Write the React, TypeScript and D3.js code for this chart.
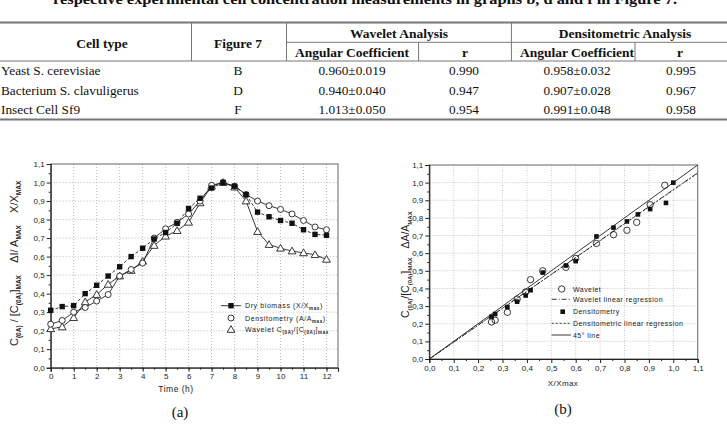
import React, { useEffect, useRef } from 'react';
import * as d3 from 'd3';

// ---- table ----
const tableTitle = 'respective experimental cell concentration measurements in graphs b, d and f in Figure 7.';
const cellTypes = ['Yeast S. cerevisiae', 'Bacterium S. clavuligerus', 'Insect Cell Sf9'];
const figureRefs = ['B', 'D', 'F'];
const waveletCoef = ['0.960\u00b10.019', '0.940\u00b10.040', '1.013\u00b10.050'];
const waveletR = ['0.990', '0.947', '0.954'];
const densCoef = ['0.958\u00b10.032', '0.907\u00b10.028', '0.991\u00b10.048'];
const densR = ['0.995', '0.967', '0.958'];

// ---- chart (a) ----
const hours = [0, 0.5, 1, 1.5, 2, 2.5, 3, 3.5, 4, 4.5, 5, 5.5, 6, 6.5, 7, 7.5, 8, 8.5, 9, 9.5, 10, 10.5, 11, 11.5, 12];
const dryBiomass = [0.31, 0.33, 0.335, 0.40, 0.445, 0.495, 0.545, 0.60, 0.645, 0.695, 0.73, 0.78, 0.86, 0.915, 0.97, 1.0, 0.98, 0.935, 0.84, 0.815, 0.795, 0.78, 0.745, 0.72, 0.715];
const densitometryA = [0.235, 0.255, 0.30, 0.325, 0.36, 0.395, 0.495, 0.53, 0.565, 0.70, 0.75, 0.785, 0.83, 0.90, 0.985, 1.0, 0.98, 0.935, 0.90, 0.875, 0.855, 0.83, 0.795, 0.76, 0.745];
const waveletA = [0.21, 0.22, 0.27, 0.355, 0.395, 0.45, 0.495, 0.525, 0.575, 0.66, 0.71, 0.74, 0.785, 0.89, 0.98, 1.0, 0.975, 0.90, 0.735, 0.665, 0.645, 0.63, 0.62, 0.61, 0.585];
const hourTicks = [0, 1, 2, 3, 4, 5, 6, 7, 8, 9, 10, 11, 12];

// ---- chart (b) ----
const waveletX = [0.255, 0.27, 0.32, 0.36, 0.395, 0.415, 0.465, 0.56, 0.60, 0.685, 0.755, 0.81, 0.85, 0.905, 0.965];
const waveletY = [0.21, 0.22, 0.265, 0.34, 0.38, 0.45, 0.50, 0.52, 0.57, 0.655, 0.705, 0.73, 0.775, 0.875, 0.985];
const densX = [0.255, 0.27, 0.32, 0.36, 0.395, 0.415, 0.465, 0.56, 0.60, 0.685, 0.755, 0.81, 0.855, 0.905, 0.97, 1.0];
const densY = [0.24, 0.255, 0.295, 0.325, 0.36, 0.39, 0.49, 0.53, 0.555, 0.695, 0.745, 0.78, 0.82, 0.85, 0.885, 1.0];
const waveletSlope = 0.960;
const densSlope = 0.958;

const fracTicks = [0, 0.1, 0.2, 0.3, 0.4, 0.5, 0.6, 0.7, 0.8, 0.9, 1.0, 1.1];
const gridFrac = [0.1, 0.2, 0.3, 0.4, 0.5, 0.6, 0.7, 0.8, 0.9, 1.0];

const SANS = '"Liberation Sans", Arial, sans-serif';
const SERIF = '"Liberation Serif", "Times New Roman", serif';
const comma = (d: number) => d.toFixed(1).replace('.', ',');

type Part = [string, boolean];

// text with subscripts
function rich(sel: any, parts: Part[], size: number, subSize: number, shift: number) {
    let down = false;
    sel.style('white-space', 'pre');
    parts.forEach(([t, sub]) => {
        const ts = sel.append('tspan').text(t);
        if (sub) {
            ts.attr('font-size', subSize).attr('font-weight', 'bold');
            if (!down) ts.attr('dy', shift);
            down = true;
        } else {
            ts.attr('font-size', size);
            if (down) ts.attr('dy', -shift);
            down = false;
        }
    });
}

function marker(g: any, kind: string, x: number, y: number) {
    if (kind === 'square') {
        g.append('rect').attr('x', x - 2.7).attr('y', y - 2.7).attr('width', 5.4).attr('height', 5.4).attr('fill', '#111');
    } else if (kind === 'circle') {
        g.append('circle').attr('cx', x).attr('cy', y).attr('r', 3).attr('fill', '#fff').attr('stroke', '#222').attr('stroke-width', 0.9);
    } else {
        g.append('path').attr('d', d3.symbol(d3.symbolTriangle, 26)()).attr('transform', `translate(${x},${y + 0.6})`)
            .attr('fill', '#fff').attr('stroke', '#222').attr('stroke-width', 0.9);
    }
}

function drawTable(svg: any) {
    const g = svg.append('g').attr('font-family', SERIF).attr('fill', '#111');

    g.append('text').attr('x', 365).attr('y', 3.5).attr('text-anchor', 'middle')
        .attr('font-size', 14).attr('font-weight', 'bold')
        .attr('textLength', 624).attr('lengthAdjust', 'spacingAndGlyphs').text(tableTitle);

    const rule = (x1: number, x2: number, y1: number, y2: number, w: number) =>
        g.append('line').attr('x1', x1).attr('x2', x2).attr('y1', y1).attr('y2', y2)
            .attr('stroke', '#777').attr('stroke-width', w);

    rule(0, 727, 22.5, 22.5, 2);
    rule(286.5, 727, 42.3, 42.3, 1);
    rule(0, 727, 61, 61, 1);
    rule(0, 727, 119.5, 119.5, 2);
    [191.5, 286.5, 511.4].forEach(x => rule(x, x, 23, 61, 1));
    [418.6, 635].forEach(x => rule(x, x, 42.3, 61, 1));

    const head = (x: number, y: number, t: string) =>
        g.append('text').attr('x', x).attr('y', y).attr('text-anchor', 'middle')
            .attr('font-size', 13.5).attr('font-weight', 'bold').text(t);
    head(102, 47.5, 'Cell type');
    head(238, 47.5, 'Figure 7');
    head(399, 37.5, 'Wavelet Analysis');
    head(625, 37.5, 'Densitometric Analysis');
    head(352, 56.5, 'Angular Coefficient');
    head(465, 56.5, 'r');
    head(577, 56.5, 'Angular Coefficient');
    head(680, 56.5, 'r');

    const rowY = [75, 94.5, 113.5];
    const cell = (x: number, y: number, t: string, anchor = 'middle') =>
        g.append('text').attr('x', x).attr('y', y).attr('text-anchor', anchor).attr('font-size', 13.3).text(t);
    cellTypes.forEach((c, i) => {
        cell(1, rowY[i], c, 'start');
        cell(238, rowY[i], figureRefs[i]);
        cell(352, rowY[i], waveletCoef[i]);
        cell(464, rowY[i], waveletR[i]);
        cell(577, rowY[i], densCoef[i]);
        cell(681, rowY[i], densR[i]);
    });
}

function styleAxis(ax: any) {
    ax.select('.domain').attr('stroke', '#222').attr('stroke-width', 1.1);
    ax.selectAll('.tick line').attr('stroke', '#222');
    ax.selectAll('text').attr('font-family', SANS).attr('font-size', 8).attr('fill', '#222');
}

function drawChartA(svg: any) {
    const x = d3.scaleLinear().domain([0, 12.5]).range([50.7, 338]);
    const y = d3.scaleLinear().domain([0, 1.1]).range([367.7, 164]);
    const g = svg.append('g');

    // grid
    hourTicks.slice(1).forEach(h => g.append('line').attr('x1', x(h)).attr('x2', x(h)).attr('y1', y(1.1)).attr('y2', y(0))
        .attr('stroke', '#aaa').attr('stroke-width', 0.8).attr('stroke-dasharray', '1,2'));
    gridFrac.forEach(v => g.append('line').attr('x1', x(0)).attr('x2', x(12.5)).attr('y1', y(v)).attr('y2', y(v))
        .attr('stroke', '#aaa').attr('stroke-width', 0.8).attr('stroke-dasharray', '1,2'));

    g.append('rect').attr('x', x(0)).attr('y', y(1.1)).attr('width', x(12.5) - x(0)).attr('height', y(0) - y(1.1))
        .attr('fill', 'none').attr('stroke', '#666').attr('stroke-width', 1);

    const xa = g.append('g').attr('transform', `translate(0,${y(0)})`)
        .call(d3.axisBottom(x).tickValues(hourTicks).tickSize(4).tickPadding(2).tickFormat(d3.format('d')));
    styleAxis(xa);
    g.append('g').attr('transform', `translate(0,${y(0)})`)
        .call(d3.axisBottom(x).tickValues(hours).tickSize(2).tickFormat(() => ''))
        .call((s: any) => { s.select('.domain').remove(); s.selectAll('line').attr('stroke', '#222'); });

    const ya = g.append('g').attr('transform', `translate(${x(0)},0)`)
        .call(d3.axisLeft(y).tickValues(fracTicks).tickSize(4).tickPadding(2).tickFormat((d: any) => comma(d)));
    styleAxis(ya);
    g.append('g').attr('transform', `translate(${x(0)},0)`)
        .call(d3.axisLeft(y).tickValues(fracTicks.slice(0, -1).map(v => v + 0.05)).tickSize(2).tickFormat(() => ''))
        .call((s: any) => { s.select('.domain').remove(); s.selectAll('line').attr('stroke', '#222'); });

    const line = d3.line<number>().x((_, i) => x(hours[i])).y(d => y(d));
    g.append('path').attr('d', line(dryBiomass)).attr('fill', 'none').attr('stroke', '#222').attr('stroke-width', 0.9).attr('stroke-dasharray', '3,2');
    g.append('path').attr('d', line(densitometryA)).attr('fill', 'none').attr('stroke', '#222').attr('stroke-width', 0.9);
    g.append('path').attr('d', line(waveletA)).attr('fill', 'none').attr('stroke', '#222').attr('stroke-width', 0.9);

    waveletA.forEach((v, i) => marker(g, 'triangle', x(hours[i]), y(v)));
    densitometryA.forEach((v, i) => marker(g, 'circle', x(hours[i]), y(v)));
    dryBiomass.forEach((v, i) => marker(g, 'square', x(hours[i]), y(v)));

    // legend
    const lg = g.append('g').attr('font-family', SANS).attr('fill', '#222');
    lg.append('line').attr('x1', 221).attr('x2', 241).attr('y1', 305.7).attr('y2', 305.7).attr('stroke', '#222').attr('stroke-width', 0.9);
    marker(lg, 'square', 231, 305.7);
    marker(lg, 'circle', 231, 318);
    marker(lg, 'triangle', 231, 329.5);
    const lt = (yy: number, parts: Part[]) => {
        const t = lg.append('text').attr('x', 245).attr('y', yy + 2.5).attr('letter-spacing', 0.6);
        rich(t, parts, 7, 4.5, 2);
    };
    lt(305.7, [['Dry biomass (X/X', false], ['max', true], [')', false]]);
    lt(318, [['Densitometry (A/A', false], ['max', true], [')', false]]);
    lt(329.5, [['Wavelet C', false], ['(0A)', true], ['/[C', false], ['(0A)', true], [']', false], ['max', true]]);

    // axis titles
    g.append('text').attr('x', 176).attr('y', 392).attr('text-anchor', 'middle').attr('font-family', SANS)
        .attr('font-size', 8.5).attr('letter-spacing', 0.5).attr('fill', '#222').text('Time (h)');
    const yl = g.append('text').attr('transform', 'translate(18,346) rotate(-90)').attr('font-family', SANS).attr('fill', '#222');
    rich(yl, [['C', false], ['(0A)', true], [' / [C', false], ['(0A)', true], [']', false], ['MAX', true],
        ['    \u0394I/ A', false], ['MAX', true], ['    X/X', false], ['MAX', true]], 11, 6.5, 3);

    svg.append('text').attr('x', 180).attr('y', 417).attr('text-anchor', 'middle').attr('font-family', SERIF)
        .attr('font-size', 15).attr('fill', '#111').text('(a)');
}

function drawChartB(svg: any) {
    const x = d3.scaleLinear().domain([0, 1.1]).range([429.3, 697.7]);
    const y = d3.scaleLinear().domain([0, 1.1]).range([359, 165]);
    const g = svg.append('g');

    gridFrac.forEach(v => {
        g.append('line').attr('x1', x(v)).attr('x2', x(v)).attr('y1', y(1.1)).attr('y2', y(0))
            .attr('stroke', '#bbb').attr('stroke-width', 0.8).attr('stroke-dasharray', '1,1.5');
        g.append('line').attr('x1', x(0)).attr('x2', x(1.1)).attr('y1', y(v)).attr('y2', y(v))
            .attr('stroke', '#bbb').attr('stroke-width', 0.8).attr('stroke-dasharray', '1,1.5');
    });
    g.append('rect').attr('x', x(0)).attr('y', y(1.1)).attr('width', x(1.1) - x(0)).attr('height', y(0) - y(1.1))
        .attr('fill', 'none').attr('stroke', '#666').attr('stroke-width', 1);

    const xa = g.append('g').attr('transform', `translate(0,${y(0)})`)
        .call(d3.axisBottom(x).tickValues(fracTicks).tickSize(4).tickPadding(2).tickFormat((d: any) => comma(d)));
    styleAxis(xa);
    g.append('g').attr('transform', `translate(0,${y(0)})`)
        .call(d3.axisBottom(x).tickValues(fracTicks.slice(0, -1).map(v => v + 0.05)).tickSize(2).tickFormat(() => ''))
        .call((s: any) => { s.select('.domain').remove(); s.selectAll('line').attr('stroke', '#222'); });
    const ya = g.append('g').attr('transform', `translate(${x(0)},0)`)
        .call(d3.axisLeft(y).tickValues(fracTicks).tickSize(4).tickPadding(2).tickFormat((d: any) => comma(d)));
    styleAxis(ya);
    g.append('g').attr('transform', `translate(${x(0)},0)`)
        .call(d3.axisLeft(y).tickValues(fracTicks.slice(0, -1).map(v => v + 0.05)).tickSize(2).tickFormat(() => ''))
        .call((s: any) => { s.select('.domain').remove(); s.selectAll('line').attr('stroke', '#222'); });

    const fit = (k: number, dash: string | null) => {
        const p = g.append('line').attr('x1', x(0)).attr('y1', y(0)).attr('x2', x(1.1)).attr('y2', y(1.1 * k))
            .attr('stroke', '#222').attr('stroke-width', 0.9);
        if (dash) p.attr('stroke-dasharray', dash);
    };
    fit(1, null);
    fit(waveletSlope, '5,2,1,2');
    fit(densSlope, '2,2');

    waveletX.forEach((v, i) => g.append('circle').attr('cx', x(v)).attr('cy', y(waveletY[i])).attr('r', 3.2)
        .attr('fill', 'none').attr('stroke', '#222').attr('stroke-width', 0.9));
    densX.forEach((v, i) => g.append('rect').attr('x', x(v) - 2.3).attr('y', y(densY[i]) - 2.3)
        .attr('width', 4.6).attr('height', 4.6).attr('fill', '#111'));

    // legend
    const lg = g.append('g').attr('font-family', SANS).attr('fill', '#222');
    lg.append('circle').attr('cx', 561.7).attr('cy', 289).attr('r', 3.2).attr('fill', '#fff').attr('stroke', '#222').attr('stroke-width', 0.9);
    lg.append('rect').attr('x', 560.4).attr('y', 309.4).attr('width', 4.6).attr('height', 4.6).attr('fill', '#111');
    const ll = (yy: number, dash: string | null) => {
        const l = lg.append('line').attr('x1', 551.7).attr('x2', 571).attr('y1', yy).attr('y2', yy).attr('stroke', '#222').attr('stroke-width', 0.9);
        if (dash) l.attr('stroke-dasharray', dash);
    };
    ll(299.3, '5,2,1,2');
    ll(323.3, '2,2');
    ll(335, null);
    const lt = (yy: number, t: string) => lg.append('text').attr('x', 573).attr('y', yy + 2.5)
        .attr('font-size', 7).attr('letter-spacing', 0.45).text(t);
    lt(289, 'Wavelet');
    lt(299.3, 'Wavelet linear regression');
    lt(311.7, 'Densitometry');
    lt(323.3, 'Densitometric linear regression');
    lt(335, '45\u00b0 line');

    g.append('text').attr('x', 563).attr('y', 386).attr('text-anchor', 'middle').attr('font-family', SANS)
        .attr('font-size', 8).attr('letter-spacing', 0.4).attr('fill', '#222').text('X/Xmax');
    const yl = g.append('text').attr('transform', 'translate(409,318) rotate(-90)').attr('font-family', SANS).attr('fill', '#222');
    rich(yl, [['C', false], ['(0A)', true], ['/[C', false], ['(0A)', true], [']', false], ['MAX', true],
        ['   \u0394A/A', false], ['MAX', true]], 10.5, 6, 3);

    svg.append('text').attr('x', 563).attr('y', 414).attr('text-anchor', 'middle').attr('font-family', SERIF)
        .attr('font-size', 15).attr('fill', '#111').text('(b)');
}

const App = () => {
    const svgRef = useRef<SVGSVGElement>(null);

    useEffect(() => {
        const svg = d3.select(svgRef.current);
        svg.selectAll('*').remove();
        drawTable(svg);
        drawChartA(svg);
        drawChartB(svg);
    }, []);

    return (
        <svg ref={svgRef} width={727} height={433}
            style={{ position: 'absolute', left: 0, top: 0, background: '#fff' }} />
    );
};

export default App;
